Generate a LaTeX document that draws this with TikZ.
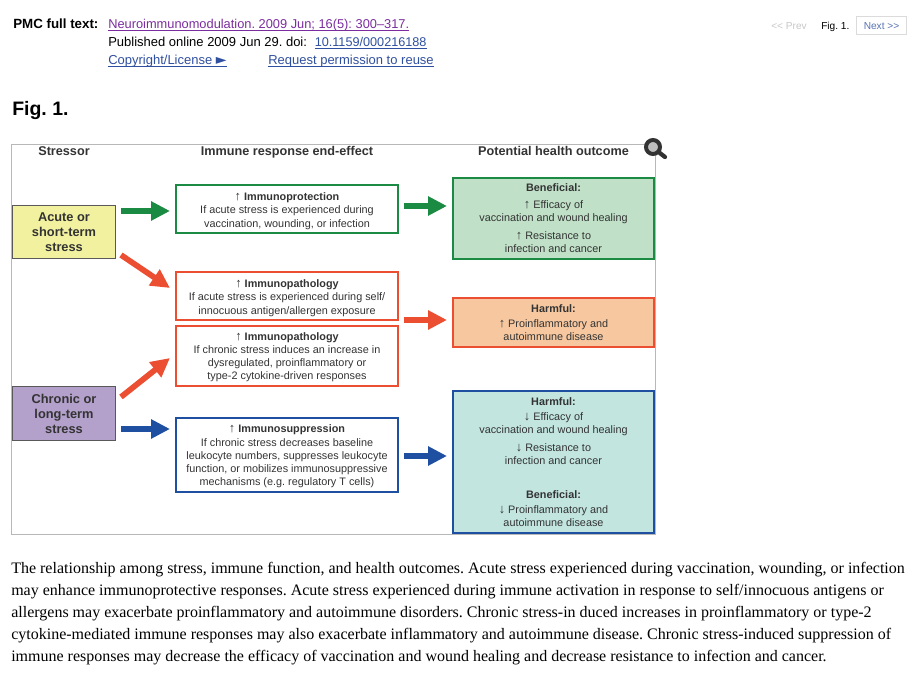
\documentclass[tikz,border=0pt]{standalone}
\usepackage{fontspec}
\setmainfont{Liberation Sans}
\newfontfamily\serifbody{Liberation Serif}
\newfontfamily\symbolfont{DejaVu Sans}
\usetikzlibrary{arrows.meta}
\definecolor{cgreen}{HTML}{1B8A43}
\definecolor{cred}{HTML}{EC4E32}
\definecolor{cblue}{HTML}{1F4FA0}
\definecolor{linkblue}{HTML}{2F4F9F}
\definecolor{linkpurple}{HTML}{7B2C9E}
\definecolor{tdark}{HTML}{333333}
\definecolor{fyellow}{HTML}{F2F1A0}
\definecolor{fviolet}{HTML}{B3A0CB}
\definecolor{fgreen}{HTML}{C0E0C8}
\definecolor{forange}{HTML}{F7C8A0}
\definecolor{fteal}{HTML}{C2E5E0}
\newcommand{\pxfont}[2]{\fontsize{#1}{#2}\selectfont}
\newcommand{\ulk}[1]{\leavevmode\sbox0{#1}\rlap{\rule[-1.7pt]{\wd0}{0.65pt}}\usebox0}
\newcommand{\upa}{{\fontsize{9.6}{9.85}\selectfont\mdseries ↑}}
\newcommand{\dna}{{\fontsize{9.6}{9.85}\selectfont\mdseries ↓}}
\frenchspacing
\tikzset{
  x=0.75pt,y=-0.75pt,
  frame/.style={draw=black!28,line width=0.75pt},
  stressbox/.style={draw=black!65,line width=0.7pt,minimum width=77.6pt,inner sep=0pt,align=center,text=tdark,font=\bfseries\pxfont{9.6}{11.3}},
  effect/.style={fill=white,line width=1.3pt,minimum width=167pt,inner sep=0pt,align=center,text=tdark,font=\pxfont{8.13}{9.85}},
  outcome/.style={line width=1.3pt,minimum width=151pt,inner sep=0pt,align=center,text=tdark,font=\pxfont{8.13}{9.85}},
  head/.style={anchor=base,text=tdark,font=\bfseries\pxfont{9.5}{11}},
  bigarrow/.style={draw=#1,line width=4.3pt,-{Triangle[length=14.25pt,width=13.75pt]}},
  toptext/.style={anchor=base west,inner sep=0pt,font=\pxfont{9.75}{12}},
  small/.style={anchor=base west,inner sep=0pt,font=\pxfont{7.6}{9}},
  bodyline/.style={anchor=base west,inner sep=0pt,font=\serifbody\pxfont{12}{13}},
}
\begin{document}
\begin{tikzpicture}
\useasboundingbox (0,0) rectangle (921,680);
% header
\node[toptext,font=\bfseries\pxfont{10}{12}] (pmc) at (13,29) {PMC full text:};
\node[toptext,text=linkpurple,font=\pxfont{9.62}{12}] (cite) at (108,29) {\ulk{Neuroimmunomodulation. 2009 Jun; 16(5): 300–317.}};
\node[toptext] (pub) at (108,47) {Published online 2009 Jun 29. doi:};
\node[toptext,text=linkblue,font=\pxfont{9.5}{12}] (doi) at (314.5,47) {\ulk{10.1159/000216188}};
\node[toptext,text=linkblue] (copy) at (108,65) {\ulk{Copyright/License\ {\fontsize{10.5}{9}\selectfont\symbolfont ►}}};
\node[toptext,text=linkblue] (req) at (268,65) {\ulk{Request permission to reuse}};
\node[small,text=black!22] (prev) at (771,30) {<{}< Prev};
\node[small] (figs) at (821,30) {Fig. 1.};
\node[draw=black!14,line width=0.75pt,minimum width=38pt,minimum height=13.5pt,inner sep=0pt,text=linkblue!80!white,font=\pxfont{7.6}{9}] (next) at (881.5,26) {Next >{}>};
\node[toptext,font=\bfseries\pxfont{14.6}{18}] (fig) at (12,116) {Fig. 1.};
% frame
\draw[frame] (11.5,144.5) rectangle (655,534.5);
% magnifier
\fill[black!25] (653,147) circle (6);
\draw[tdark,line width=3pt] (653,147) circle (7);
\draw[tdark,line width=3.2pt,line cap=round] (658.5,152) -- (665,157);
% column heads
\node[head] (h1) at (64,156) {Stressor};
\node[head] (h2) at (287,156) {Immune response end-effect};
\node[head] (h3) at (553.5,156) {Potential health outcome};
% stressors
\node[stressbox,fill=fyellow,minimum height=40pt] (acute) at (64,232) {Acute or\\short-term\\stress};
\node[stressbox,fill=fviolet,minimum height=40pt] (chronic) at (64,413.5) {Chronic or\\long-term\\stress};
% effects
\node[effect,draw=cgreen,minimum height=36pt] (prot) at (287,209) {\rule{0pt}{9pt}{\bfseries \upa\ Immunoprotection}\\If acute stress is experienced during\\vaccination, wounding, or infection};
\node[effect,draw=cred,minimum height=36pt] (path1) at (287,296) {\rule{0pt}{9pt}{\bfseries \upa\ Immunopathology}\\If acute stress is experienced during self/\\innocuous antigen/allergen exposure};
\node[effect,draw=cred,minimum height=45pt] (path2) at (287,356) {\rule{0pt}{7.5pt}{\bfseries \upa\ Immunopathology}\\If chronic stress induces an increase in\\dysregulated, proinflammatory or\\type-2 cytokine-driven responses};
\node[effect,draw=cblue,minimum height=55pt] (supp) at (287,455) {\rule{0pt}{8pt}{\bfseries \upa\ Immunosuppression}\\If chronic stress decreases baseline\\leukocyte numbers, suppresses leukocyte\\function, or mobilizes immunosuppressive\\mechanisms (e.g. regulatory T cells)};
% outcomes
\node[outcome,draw=cgreen,fill=fgreen,minimum height=60.5pt] (ben) at (553.5,218.5) {{\bfseries Beneficial:}\\[2.8pt]\upa\ Efficacy of\\vaccination and wound healing\\[3.4pt]\upa\ Resistance to\\infection and cancer};
\node[outcome,draw=cred,fill=forange,minimum height=36.5pt] (harm) at (553.5,322.5) {{\bfseries Harmful:}\\[1.6pt]\upa\ Proinflammatory and\\autoimmune disease};
\node[outcome,draw=cblue,fill=fteal,minimum height=106.5pt] (mix) at (553.5,462) {{\bfseries Harmful:}\\[1.4pt]\dna\ Efficacy of\\vaccination and wound healing\\[3.2pt]\dna\ Resistance to\\infection and cancer\\[15.6pt]{\bfseries Beneficial:}\\[1.4pt]\dna\ Proinflammatory and\\autoimmune disease};
% arrows
\coordinate (a1s) at (121,211); \coordinate (a1e) at (170,211);
\coordinate (a2s) at (121,255); \coordinate (a2e) at (170,288);
\coordinate (a3s) at (121,397); \coordinate (a3e) at (170,358);
\coordinate (a4s) at (121,429); \coordinate (a4e) at (170,429);
\coordinate (a5s) at (404,206); \coordinate (a5e) at (447,206);
\coordinate (a6s) at (404,320); \coordinate (a6e) at (447,320);
\coordinate (a7s) at (404,456); \coordinate (a7e) at (447,456);
\draw[bigarrow=cgreen] (a1s) -- (a1e);
\draw[bigarrow=cred] (a2s) -- (a2e);
\draw[bigarrow=cred] (a3s) -- (a3e);
\draw[bigarrow=cblue] (a4s) -- (a4e);
\draw[bigarrow=cgreen] (a5s) -- (a5e);
\draw[bigarrow=cred] (a6s) -- (a6e);
\draw[bigarrow=cblue] (a7s) -- (a7e);
% caption
\node[bodyline] (l1) at (11,573) {The relationship among stress, immune function, and health outcomes. Acute stress experienced during vaccination, wounding, or infection};
\node[bodyline] (l2) at (11,595) {may enhance immunoprotective responses. Acute stress experienced during immune activation in response to self/innocuous antigens or};
\node[bodyline] (l3) at (11,617) {allergens may exacerbate proinflammatory and autoimmune disorders. Chronic stress-in duced increases in proinflammatory or type-2};
\node[bodyline] (l4) at (11,639) {cytokine-mediated immune responses may also exacerbate inflammatory and autoimmune disease. Chronic stress-induced suppression of};
\node[bodyline] (l5) at (11,661) {immune responses may decrease the efficacy of vaccination and wound healing and decrease resistance to infection and cancer.};
\end{tikzpicture}
\end{document}
